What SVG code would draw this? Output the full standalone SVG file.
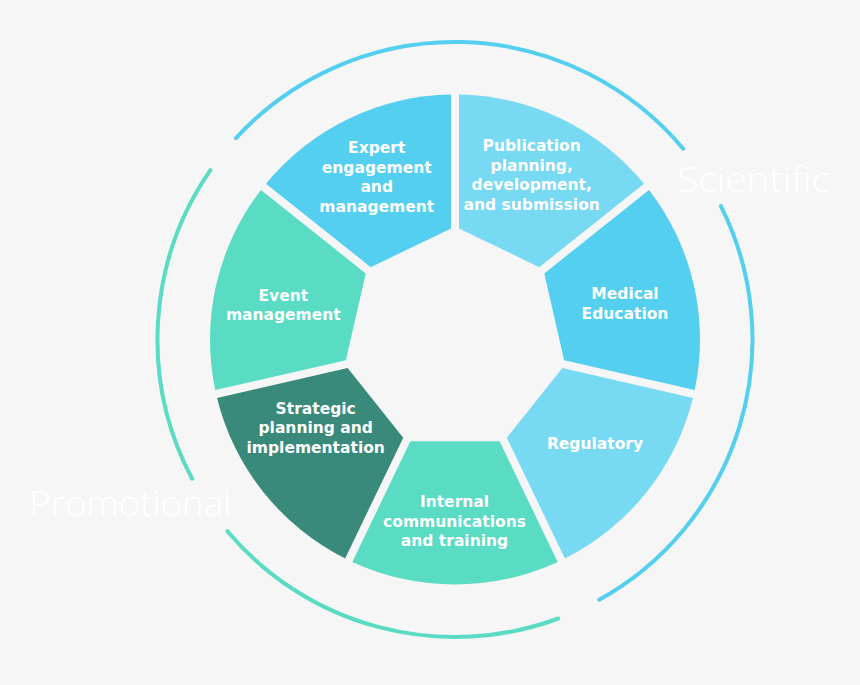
<svg xmlns="http://www.w3.org/2000/svg" width="860" height="685" viewBox="0 0 860 685">
<style>
.bg{fill:#f6f6f6}
.blue{fill:#54cff0}
.lblue{fill:#78d9f3}
.teal{fill:#59dbc4}
.dark{fill:#3a8a7b}
.lbl{font-family:"DejaVu Sans","Liberation Sans",sans-serif;font-weight:bold;font-size:15.5px;fill:#ffffff;text-anchor:middle}
.big{font-family:"Open Sans","Liberation Sans",sans-serif;font-weight:300;font-size:35px;fill:#ffffff}
.arcb{fill:none;stroke:#54cff0;stroke-width:4;stroke-linecap:round}
.arcg{fill:none;stroke:#59dbc4;stroke-width:4;stroke-linecap:round}
</style>
<rect class="bg" x="0" y="0" width="860" height="685"/>
<g id="connectors">
<path class="arcb" d="M236.0,138.1 A297.5,297.5 0 0 1 683.2,148.7"/>
<path class="arcb" d="M720.9,206.1 A297.5,297.5 0 0 1 599.2,599.7"/>
<path class="arcg" d="M192.1,478.7 A297.5,297.5 0 0 1 210.4,170.1"/>
<path class="arcg" d="M558.2,618.5 A297.5,297.5 0 0 1 227.4,531.2"/>
</g>
<g id="publication">
<path class="lblue" d="M459,228.5 L459,94.53 A245,245 0 0 1 644.03,183.64 L539.29,267.17 Z"/>
<text class="lbl" x="531.7" y="151">Publication</text>
<text class="lbl" x="531.7" y="170.5">planning,</text>
<text class="lbl" x="531.7" y="190">development,</text>
<text class="lbl" x="531.7" y="209.5">and submission</text>
</g>
<g id="medical">
<path class="blue" d="M544.28,273.42 L649.02,189.89 A245,245 0 0 1 694.72,390.11 L564.11,360.30 Z"/>
<text class="lbl" x="625" y="299.3">Medical</text>
<text class="lbl" x="625" y="318.5">Education</text>
</g>
<g id="regulatory">
<path class="lblue" d="M562.33,368.10 L692.94,397.91 A245,245 0 0 1 564.89,558.48 L506.77,437.77 Z"/>
<text class="lbl" x="595" y="448.8">Regulatory</text>
</g>
<g id="internal">
<path class="teal" d="M499.56,441.24 L557.68,561.95 A245,245 0 0 1 352.32,561.95 L410.44,441.24 Z"/>
<text class="lbl" x="454.5" y="507.3">Internal</text>
<text class="lbl" x="454.5" y="526.5">communications</text>
<text class="lbl" x="454.5" y="545.5">and training</text>
</g>
<g id="strategic">
<path class="dark" d="M403.24,437.77 L345.11,558.48 A245,245 0 0 1 217.06,397.91 L347.67,368.10 Z"/>
<text class="lbl" x="315.7" y="413.5">Strategic</text>
<text class="lbl" x="315.7" y="433">planning and</text>
<text class="lbl" x="315.7" y="452.5">implementation</text>
</g>
<g id="event">
<path class="teal" d="M345.89,360.30 L215.28,390.11 A245,245 0 0 1 260.98,189.89 L365.72,273.42 Z"/>
<text class="lbl" x="283.3" y="300.7">Event</text>
<text class="lbl" x="283.3" y="320">management</text>
</g>
<g id="expert">
<path class="blue" d="M370.71,267.17 L265.97,183.64 A245,245 0 0 1 451,94.53 L451,228.5 Z"/>
<text class="lbl" x="376.7" y="153.3">Expert</text>
<text class="lbl" x="376.7" y="172.5">engagement</text>
<text class="lbl" x="376.7" y="192">and</text>
<text class="lbl" x="376.7" y="211.5">management</text>
</g>
<g id="scientific">
<text class="big" x="677" y="191.7" textLength="153" lengthAdjust="spacingAndGlyphs">Scientific</text>
</g>
<g id="promotional">
<text class="big" x="29.3" y="516" textLength="202" lengthAdjust="spacingAndGlyphs">Promotional</text>
</g>
</svg>
